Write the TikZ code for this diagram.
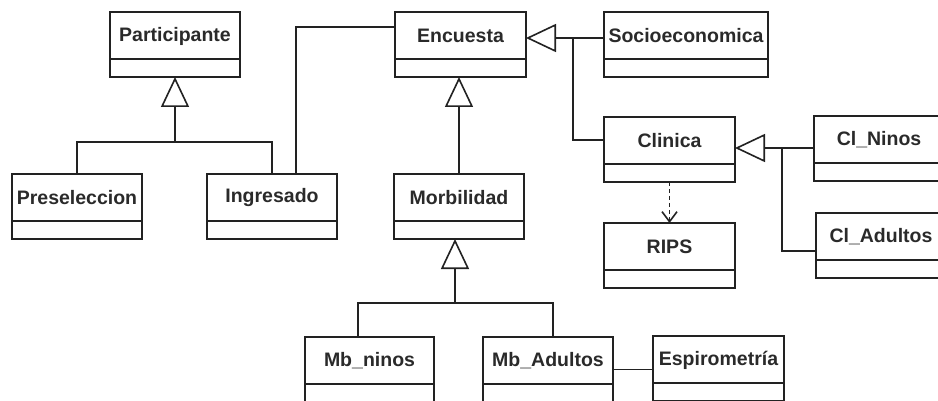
\documentclass[tikz,border=0pt]{standalone}
\usepackage{fontspec}
\setmainfont{Liberation Sans}
\usetikzlibrary{arrows.meta,calc}
\definecolor{ink}{HTML}{222222}
\definecolor{txt}{HTML}{2a2a2a}
\tikzset{
  classbox/.style={draw=ink, line width=1.6pt, fill=white, minimum height=65pt, inner sep=0pt, outer sep=0pt, anchor=north west},
  classtext/.style={text=txt, font=\fontsize{19.5}{21}\selectfont\bfseries, inner sep=0pt},
  conn/.style={draw=ink, line width=1.6pt},
  gen/.style={conn, -{Triangle[open, length=30pt, width=28pt]}},
  dep/.style={conn, dash pattern=on 4pt off 3pt, -{Straight Barb[length=10pt, width=15pt]}},
}
\newcommand{\umlclass}[5]{%
  \node[classbox, minimum width=#4pt] (#1) at (#2,#3) {};
  \draw[conn] ([yshift=-47pt]#1.north west) -- ([yshift=-47pt]#1.north east);
  \node[classtext] (#1-label) at ([yshift=-24pt]#1.north) {#5};
}
\begin{document}
\begin{tikzpicture}[x=1pt, y=-1pt]
  \fill[white] (0,0) rectangle (938,401);
  \useasboundingbox (0,0) rectangle (938,401);
  % classes
  \umlclass{Participante}{110}{12}{130}{Participante}
  \umlclass{Preseleccion}{12}{174}{130}{Preseleccion}
  \umlclass{Ingresado}{207}{174}{130}{Ingresado}
  \umlclass{Encuesta}{395}{12}{131}{Encuesta}
  \umlclass{Morbilidad}{394}{174}{130}{Morbilidad}
  \umlclass{Socioeconomica}{604}{12}{164}{Socioeconomica}
  \umlclass{Clinica}{604}{117}{131}{Clinica}
  \umlclass{RIPS}{604}{223}{131}{RIPS}
  \umlclass{ClNinos}{814}{116}{130}{Cl\_Ninos}
  \umlclass{ClAdultos}{816}{213}{130}{Cl\_Adultos}
  \umlclass{Mbninos}{305}{337}{129}{Mb\_ninos}
  \umlclass{MbAdultos}{483}{337}{130}{Mb\_Adultos}
  \umlclass{Espirometria}{653}{336}{131}{Espirometría}
  % Participante generalization
  \coordinate (j1) at (175,142);
  \draw[conn] (Preseleccion.north) |- (j1) -| (Ingresado.north);
  \draw[gen] (j1) -- (j1 |- Participante.south);
  % Ingresado -- Encuesta association
  \draw[conn] ([xshift=24pt]Ingresado.north) |- ([yshift=-15pt]Encuesta.north west);
  % Morbilidad -> Encuesta
  \draw[gen] (Morbilidad.north) -- (Morbilidad.north |- Encuesta.south);
  % Socioeconomica, Clinica -> Encuesta
  \coordinate (j2) at (573,38);
  \coordinate (c2) at ([yshift=-23pt]Clinica.north west);
  \draw[conn] (Socioeconomica.west |- j2) -- (j2) |- (c2);
  \draw[gen] (j2) -- (Encuesta.east |- j2);
  % Cl_Ninos, Cl_Adultos -> Clinica
  \coordinate (j4) at (782,148);
  \coordinate (c4) at ([yshift=-38pt]ClAdultos.north west);
  \draw[conn] (ClNinos.west |- j4) -- (j4) |- (c4);
  \draw[gen] (j4) -- (Clinica.east |- j4);
  % Clinica ..> RIPS
  \draw[dep] (Clinica.south) -- (RIPS.north);
  % Mb_ninos, Mb_Adultos -> Morbilidad
  \coordinate (j3) at (455,303);
  \draw[conn] ([xshift=-11.5pt]Mbninos.north) |- (j3) -| ([xshift=5pt]MbAdultos.north);
  \draw[gen] (j3) -- (j3 |- Morbilidad.south);
  % Mb_Adultos -- Espirometria
  \draw[conn] (MbAdultos.east) -- (Espirometria.west |- MbAdultos.east);
\end{tikzpicture}
\end{document}
